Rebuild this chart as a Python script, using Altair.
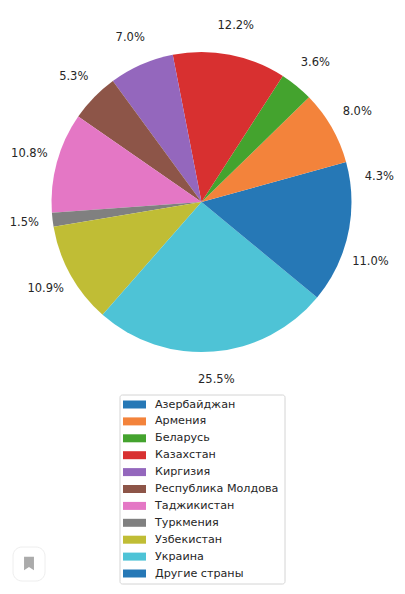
import math
import altair as alt
import pandas as pd

names = ["Азербайджан", "Армения", "Беларусь", "Казахстан", "Киргизия", "Республика Молдова",
         "Таджикистан", "Туркмения", "Узбекистан", "Украина", "Другие страны"]
values = [4.3, 8.0, 3.6, 12.2, 7.0, 5.3, 10.8, 1.5, 10.9, 25.5, 11.0]
labels = ["4.3%", "8.0%", "3.6%", "12.2%", "7.0%", "5.3%", "10.8%", "1.5%", "10.9%", "25.5%", "11.0%"]
colors_display = ["#2678b6", "#f3833b", "#44a32e", "#d83030", "#9467bd", "#8d5548",
                  "#e477c5", "#808080", "#c0bd35", "#4ec3d6", "#2678b6"]

df = pd.DataFrame({"name": names, "v": values, "label": labels, "i": list(range(11))})
FONT = "DejaVu Sans"
TXT = "#262626"
W, H = 389, 578
PX, PY = 201.5 - 8, 202 - 8
theta = alt.Theta("v:Q", stack=True, scale=alt.Scale(range=[math.pi / 2, math.pi / 2 - 2 * math.pi]))
order = alt.Order("i:Q")
color = alt.Color("i:O", legend=None, scale=alt.Scale(domain=list(range(11)), range=colors_display))
row_y = alt.Y("i:Q", axis=None, scale=alt.Scale(domain=[0, 10], range=[404.5 - 8, 573.5 - 8]))

pie = alt.Chart(df).mark_arc(outerRadius=150, stroke=None).encode(
    theta=theta, order=order, color=color, x=alt.value(PX), y=alt.value(PY),
)
text = alt.Chart(df).mark_text(radius=179, font=FONT, fontSize=11.5, color=TXT).encode(
    theta=theta, order=order, text="label:N", x=alt.value(PX + 0.5), y=alt.value(PY - 0.5),
)

one = pd.DataFrame({"a": [0]})
box = alt.Chart(one).mark_rect(
    fill="white", stroke="#d4d4d4", strokeWidth=1, cornerRadius=2.5
).encode(x=alt.value(120 - 8), x2=alt.value(285 - 8), y=alt.value(395 - 8), y2=alt.value(584 - 8))
leg_rows = alt.Chart(df).mark_rect(width=23, height=8).encode(
    x=alt.value(134.5 - 8), y=row_y, color=color,
)
leg_text = alt.Chart(df).mark_text(align="left", font=FONT, fontSize=11.15, color=TXT).encode(
    x=alt.value(155 - 8), y=row_y, text="name:N",
)
bm_box = alt.Chart(one).mark_rect(
    fill="white", stroke="#eeeeee", strokeWidth=1, cornerRadius=9
).encode(x=alt.value(13 - 8), x2=alt.value(45 - 8), y=alt.value(547 - 8), y2=alt.value(581 - 8))
bm = alt.Chart(one).mark_point(
    shape="M-0.55,-0.75 L0.55,-0.75 L0.55,0.75 L0,0.4 L-0.55,0.75 Z",
    filled=True, color="#ababab", size=324, opacity=1
).encode(x=alt.value(29 - 8), y=alt.value(563.5 - 8))

chart = alt.layer(pie, text, box, leg_rows, leg_text, bm_box, bm).resolve_scale(
    theta="shared", color="shared", y="shared"
).properties(width=W, height=H, padding=0, autosize=alt.AutoSizeParams(type="none")).configure_view(stroke=None)
chart.save("out.html", embed_options={"renderer": "svg", "actions": False})
